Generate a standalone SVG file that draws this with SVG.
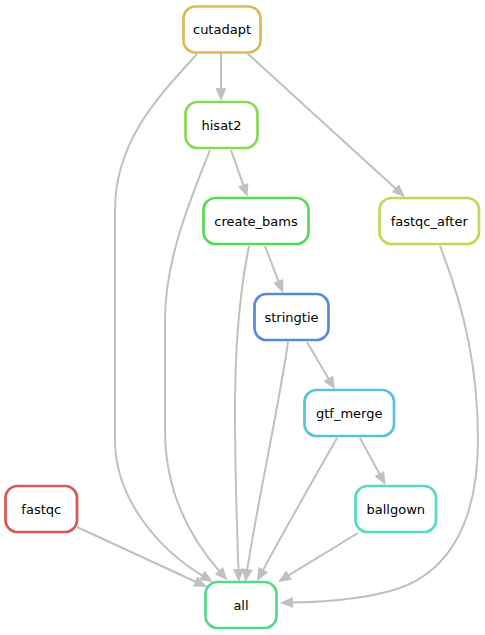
<svg xmlns="http://www.w3.org/2000/svg" width="485" height="635" viewBox="0 0 485 635">
<style>
.node rect{fill:#fff;stroke-width:2.7}
.node text{font-family:"DejaVu Sans",sans-serif;font-size:13px;fill:#000;text-anchor:middle}
.edges path{fill:none;stroke:#c0c0c0;stroke-width:2;marker-end:url(#arr)}
</style>
<defs>
<marker id="arr" markerUnits="userSpaceOnUse" viewBox="0 -7 14 14" refX="1" refY="0" markerWidth="14" markerHeight="14" orient="auto" overflow="visible">
<path d="M0,-5.5 L13,0 L0,5.5 z" fill="#c0c0c0"/>
</marker>
</defs>
<rect width="485" height="635" fill="#fff"/>
<g class="edges">
<path d="M221,53 L221,89"/>
<path d="M247,53 L396.1,188.9"/>
<path d="M231,150 L243.5,185.7"/>
<path d="M265,246 L278.7,281.8"/>
<path d="M307,342 L328.9,379.2"/>
<path d="M360,438 L379.8,474.5"/>
<path d="M77,527 L196.1,582"/>
<path d="M358,533 L288.2,575.7"/>
<path d="M337,438 C320,468 290,520 262.8,570.5"/>
<path d="M288,342 C280,400 258,500 247.1,570.2"/>
<path d="M249,246 C240,290 235,350 235,410 C235,480 237,530 238.5,570"/>
<path d="M210,150 C190,200 165,260 165,320 L165,430 C165,495 192,540 219.5,571.3"/>
<path d="M197,54 C160,95 115,140 115,210 L115,440 C115,500 160,550 202.7,575.8"/>
<path d="M440,246 C465,310 478,370 478,440 C478,520 450,570 400,588 C370,598 330,602 292,602.5"/>
</g>
<g id="cutadapt" class="node"><rect x="183.5" y="6.5" width="77" height="46" rx="12" stroke="#d9bc57"/><text x="222" y="34">cutadapt</text></g>
<g id="hisat2" class="node"><rect x="185.5" y="102" width="72" height="46" rx="12" stroke="#88d957"/><text x="221.5" y="130">hisat2</text></g>
<g id="create_bams" class="node"><rect x="203.5" y="198" width="105" height="46" rx="12" stroke="#5ad957"/><text x="256" y="226">create_bams</text></g>
<g id="fastqc_after" class="node"><rect x="379.5" y="198" width="99.5" height="46" rx="12" stroke="#bfd957"/><text x="429.25" y="226">fastqc_after</text></g>
<g id="stringtie" class="node"><rect x="254.5" y="294" width="74" height="46" rx="12" stroke="#578bd9"/><text x="291.5" y="322">stringtie</text></g>
<g id="gtf_merge" class="node"><rect x="304.5" y="390" width="89.5" height="46" rx="12" stroke="#57c2d9"/><text x="349.25" y="418">gtf_merge</text></g>
<g id="ballgown" class="node"><rect x="355.5" y="486" width="80.5" height="46" rx="12" stroke="#57d9c2"/><text x="395.75" y="514">ballgown</text></g>
<g id="fastqc" class="node"><rect x="5.5" y="486" width="71.5" height="46" rx="12" stroke="#d95757"/><text x="41.25" y="514">fastqc</text></g>
<g id="all" class="node"><rect x="205.5" y="582" width="71" height="46" rx="12" stroke="#57d98b"/><text x="241" y="610">all</text></g>
</svg>
